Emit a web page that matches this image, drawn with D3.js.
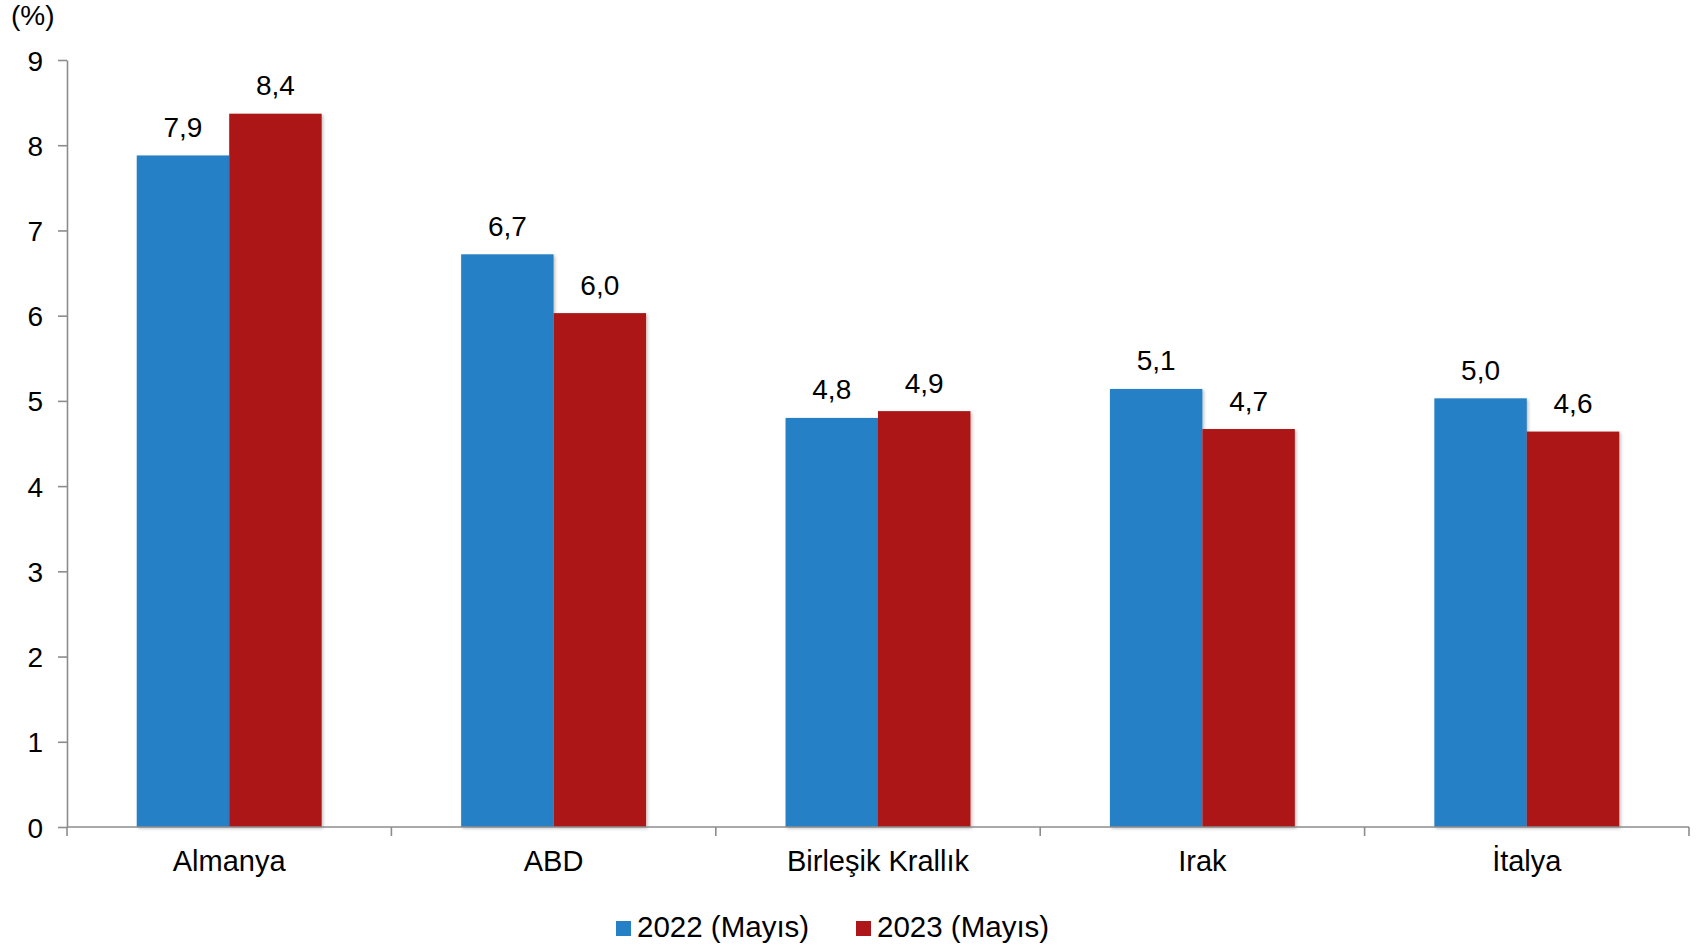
<!DOCTYPE html>
<html><head><meta charset="utf-8">
<script src="https://cdn.jsdelivr.net/npm/d3@7"></script>
<style>body{margin:0;background:#fff;}svg{display:block;font-family:"Liberation Sans",Arial,sans-serif;}</style>
</head><body>
<script>
const categories = ["Almanya","ABD","Birleşik Krallık","Irak","İtalya"];
const seriesNames = ["2022 (Mayıs)","2023 (Mayıs)"];
const values2022 = [7.88, 6.72, 4.80, 5.14, 5.03];
const values2023 = [8.37, 6.03, 4.88, 4.67, 4.64];
const labels2022 = ["7,9","6,7","4,8","5,1","5,0"];
const labels2023 = ["8,4","6,0","4,9","4,7","4,6"];
const yTicks = [0,1,2,3,4,5,6,7,8,9];
const colors = ["#2680C5","#AD1719"];

(function(){
const W = 1698, H = 950;
const mLeft = 67, mRight = 1689, mTop = 60, mBottom = 827;
const svg = d3.select("body").append("svg").attr("width",W).attr("height",H);

const y = d3.scaleLinear().domain([0,9]).range([mBottom, mTop]);
const x0 = d3.scaleBand().domain(categories).range([mLeft,mRight]).paddingInner(0.43).paddingOuter(0.215);
const x1 = d3.scaleBand().domain([0,1]).range([0,x0.bandwidth()]);
const step = x0.step();
const seriesVals = [values2022, values2023];
const seriesLbls = [labels2022, labels2023];

const defs = svg.append("defs");
const f = defs.append("filter").attr("id","sh").attr("x","-10%").attr("y","-10%").attr("width","130%").attr("height","130%");
f.append("feDropShadow").attr("dx",1.5).attr("dy",1.5).attr("stdDeviation",1.5).attr("flood-color","#000").attr("flood-opacity",0.25);

const g = svg.append("g");
categories.forEach((c,i)=>{
  [0,1].forEach(s=>{
    g.append("rect")
      .attr("x", x0(c)+x1(s))
      .attr("y", y(seriesVals[s][i]))
      .attr("width", x1.bandwidth())
      .attr("height", y(0)-y(seriesVals[s][i]))
      .attr("fill", colors[s])
      .attr("filter","url(#sh)");
    g.append("text")
      .attr("x", x0(c)+x1(s)+x1.bandwidth()/2)
      .attr("y", y(seriesVals[s][i]) - 18.5)
      .attr("text-anchor","middle")
      .attr("font-size",28)
      .attr("fill","#000")
      .text(seriesLbls[s][i]);
  });
});

// Y axis
const yAxis = d3.axisLeft(y).tickValues(yTicks).tickFormat(d=>d).tickSize(9).tickSizeOuter(0).tickPadding(15);
const ya = svg.append("g").attr("transform",`translate(${mLeft},0)`).call(yAxis);
ya.select(".domain").attr("stroke","#8c8c8c").attr("stroke-width",1.6);
ya.selectAll(".tick line").attr("stroke","#8c8c8c").attr("stroke-width",1.6);
ya.selectAll(".tick text").attr("font-size",28).attr("fill","#000").attr("font-family","Liberation Sans, Arial, sans-serif").attr("dy","0.36em");

// X axis
const xa = svg.append("g").attr("transform",`translate(0,${mBottom})`);
xa.append("line").attr("x1",mLeft).attr("x2",mRight).attr("stroke","#8c8c8c").attr("stroke-width",1.6);
const boundaries = d3.range(categories.length+1).map(i=>mLeft+i*step);
xa.selectAll("line.tk").data(boundaries).join("line").attr("class","tk")
  .attr("x1",d=>d).attr("x2",d=>d).attr("y1",0).attr("y2",9)
  .attr("stroke","#8c8c8c").attr("stroke-width",1.6);
xa.selectAll("text.cat").data(categories).join("text").attr("class","cat")
  .attr("x",d=>x0(d)+x0.bandwidth()/2).attr("y",44)
  .attr("text-anchor","middle").attr("font-size",29).attr("fill","#000")
  .text(d=>d);

// unit label
svg.append("text").attr("x",11).attr("y",25).attr("font-size",28).attr("fill","#000").text("(%)");

// Legend
const legX = [616, 856];
seriesNames.forEach((n,i)=>{
  svg.append("rect").attr("x",legX[i]).attr("y",921).attr("width",15).attr("height",15).attr("fill",colors[i]);
  svg.append("text").attr("x",legX[i]+21).attr("y",937).attr("font-size",29.5).attr("fill","#000").text(n);
});
})();
</script>
</body></html>
